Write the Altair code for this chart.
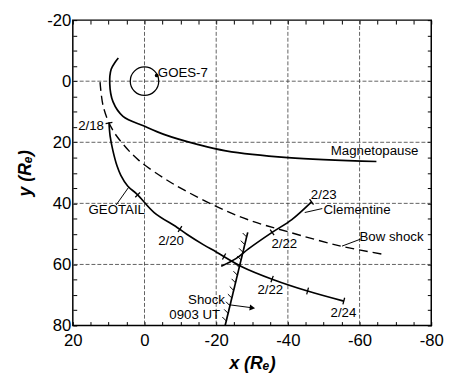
import altair as alt
import pandas as pd

FONT = "Liberation Sans"

# ---------------- data ----------------
mp_x = [7.3, 8.2, 9.3, 9.7, 8.8, 6.0, 0.1, -5.4, -14.5, -22.7, -40.0, -64.7]
mp_y = [-7.6, -6.2, -3.9, 0.8, 6.7, 11.5, 14.7, 17.4, 20.6, 22.8, 25.0, 26.3]

bow_x = [12.4, 11.5, 9.2, 6.0, 1.5, -5.5, -11.0, -20.0, -29.0, -40.0, -54.8, -67.1]
bow_y = [0.3, 8.3, 15.3, 20.6, 26.0, 31.8, 35.6, 41.0, 45.4, 49.3, 54.0, 56.8]

geo_x = [9.9, 9.6, 8.8, 7.7, 6.6, 4.7, 1.9, -2.7, -9.0, -11.8, -16.4, -20.0, -27.3, -35.8, -45.5, -55.6]
geo_y = [13.7, 17.9, 22.8, 27.6, 30.8, 34.3, 37.2, 43.0, 47.8, 50.1, 53.5, 55.9, 60.8, 64.9, 68.7, 72.0]

clem_x = [-21.4, -25.5, -29.0, -35.6, -41.1, -46.6]
clem_y = [60.6, 58.1, 54.9, 49.5, 45.3, 39.5]

shock_x = [-28.8, -22.5]
shock_y = [49.5, 80.0]

# leader lines and arrow shaft
leaders = {
    "geo_leader": ([7.9, 4.4], [40.5, 34.7]),
    "clem_leader": ([-44.7, -49.6], [43.0, 41.7]),
    "bow_leader": ([-55.1, -60.3], [54.0, 51.7]),
    "shock_arrow": ([-23.6, -30.1], [73.2, 74.2]),
}

# day ticks along trajectories
tick_x = [9.9, 1.9, -9.9, -22.2, -35.6, -45.5, -55.6, -35.6, -46.6]
tick_y = [13.7, 37.2, 48.4, 57.4, 64.8, 68.7, 72.0, 49.5, 39.5]
tick_angle = [80, 45, 33, 28, 20, 15, 14, 325, 325]

# hatch marks on the shock front
hatch_x = [-28.49, -27.97, -27.46, -26.94, -26.42, -25.91, -25.39, -24.87, -24.36, -23.84, -23.32, -22.81]
hatch_y = [51.0, 53.5, 56.0, 58.5, 61.0, 63.5, 66.0, 68.5, 71.0, 73.5, 76.0, 78.5]

# text labels
lab_text = ["GOES-7", "Magnetopause", "2/18", "GEOTAIL", "2/20", "2/22", "2/24",
            "2/23", "Clementine", "2/22", "Bow shock", "Shock", "0903 UT"]
lab_x = [-10.7, -64.2, 14.9, 7.75, -7.4, -35.1, -55.5, -50.0, -59.3, -39.0, -68.9, -17.3, -14.0]
lab_y = [-2.6, 22.8, 14.6, 42.1, 52.3, 68.4, 75.8, 37.2, 42.1, 53.3, 51.1, 71.8, 76.6]

goes_x, goes_y = [0.0], [0.0]
goes_dot_x, goes_dot_y = [-3.4], [-1.9]
arrow_x, arrow_y, arrow_angle = [-30.1], [74.2], [7]

x_minor = list(range(-80, 25, 5))
y_minor = list(range(-20, 85, 5))
x_major = [20, 0, -20, -40, -60, -80]
y_major = [-20, 0, 20, 40, 60, 80]
x_grid = [0, -20, -40, -60]
y_grid = [0, 20, 40, 60]

# ---------------- tables ----------------
def line_df(name, xs, ys):
    return pd.DataFrame({"id": name, "x": xs, "y": ys, "i": list(range(len(xs)))})

solid_df = pd.concat([line_df("mp", mp_x, mp_y), line_df("geo", geo_x, geo_y),
                      line_df("clem", clem_x, clem_y), line_df("shock", shock_x, shock_y)])
bow_df = line_df("bow", bow_x, bow_y)
lead_df = pd.concat([line_df(k, v[0], v[1]) for k, v in leaders.items()])
tick_df = pd.DataFrame({"x": tick_x, "y": tick_y, "a": tick_angle})
hatch_df = pd.DataFrame({"x": hatch_x, "y": hatch_y})
lab_df = pd.DataFrame({"t": lab_text, "x": lab_x, "y": lab_y})
goes_df = pd.DataFrame({"x": goes_x, "y": goes_y})
dot_df = pd.DataFrame({"x": goes_dot_x, "y": goes_dot_y})
arrow_df = pd.DataFrame({"x": arrow_x, "y": arrow_y, "a": arrow_angle})
frame_df = pd.DataFrame({"x": [20, -80], "y": [-20, 80]})
xgrid_df = pd.DataFrame({"x": x_grid})
ygrid_df = pd.DataFrame({"y": y_grid})

xscale = alt.Scale(domain=[-80, 20], reverse=True, nice=False, zero=False)
yscale = alt.Scale(domain=[-20, 80], reverse=True, nice=False, zero=False)

lab_expr = "indexof(%s, datum.value) >= 0 ? '' + datum.value : ''"

common_axis = dict(labelFont=FONT, labelFontSize=17, labelColor="black", labelFlush=False,
                   labelOverlap=False, tickSize=4, tickColor="black", tickWidth=1, offset=-4,
                   domain=False, grid=False, titleFont=FONT, titleFontSize=18,
                   titleFontWeight="bold", titleFontStyle="italic", titleColor="black")

ax_bottom = alt.Axis(orient="bottom", values=x_minor, labelExpr=lab_expr % str(x_major),
                     labelPadding=7, title="x  (Rₑ)", titlePadding=7, **common_axis)
ax_left = alt.Axis(orient="left", values=y_minor, labelExpr=lab_expr % str(y_major),
                   labelPadding=2, title="y  (Rₑ)", titlePadding=13, **common_axis)
ax_top = alt.Axis(orient="top", values=x_minor, labels=False, title=None, **common_axis)
ax_right = alt.Axis(orient="right", values=y_minor, labels=False, title=None, **common_axis)


def X(axis=None, field="x:Q"):
    return alt.X(field, scale=xscale, axis=axis)


def Y(axis=None, field="y:Q"):
    return alt.Y(field, scale=yscale, axis=axis)


axes_a = alt.Chart(frame_df).mark_point(opacity=0).encode(x=X(ax_bottom), y=Y(ax_left))
axes_b = alt.Chart(frame_df).mark_point(opacity=0).encode(x=X(ax_top), y=Y(ax_right))

grid_style = dict(color="#3a3a3a", strokeWidth=0.8, strokeDash=[4, 2])
gx = alt.Chart(xgrid_df).mark_rule(**grid_style).encode(x=X())
gy = alt.Chart(ygrid_df).mark_rule(**grid_style).encode(y=Y())

solid = alt.Chart(solid_df).mark_line(color="black", strokeWidth=1.7,
                                      interpolate="catmull-rom").encode(
    x=X(), y=Y(), detail="id:N", order="i:Q")
bow = alt.Chart(bow_df).mark_line(color="black", strokeWidth=1.4, strokeDash=[9, 5],
                                  interpolate="catmull-rom").encode(
    x=X(), y=Y(), order="i:Q")
lead = alt.Chart(lead_df).mark_line(color="black", strokeWidth=1).encode(
    x=X(), y=Y(), detail="id:N", order="i:Q")
ticks = alt.Chart(tick_df).mark_point(shape="M0,-1L0,1", size=49, stroke="black",
                                      strokeWidth=1.3, filled=False, opacity=1).encode(
    x=X(), y=Y(), angle=alt.Angle("a:Q", scale=None))
hatch = alt.Chart(hatch_df).mark_point(shape="M0,0L-1,-1", size=64, stroke="black",
                                       strokeWidth=1, filled=False, opacity=1).encode(x=X(), y=Y())
goes = alt.Chart(goes_df).mark_point(shape="circle", size=841, stroke="black", strokeWidth=1.3,
                                     filled=False, opacity=1).encode(x=X(), y=Y())
dot = alt.Chart(dot_df).mark_point(shape="circle", size=14, color="black", filled=True,
                                   opacity=1).encode(x=X(), y=Y())
arrow = alt.Chart(arrow_df).mark_point(shape="triangle-right", size=40, color="black",
                                       filled=True, opacity=1).encode(
    x=X(), y=Y(), angle=alt.Angle("a:Q", scale=None))
labels = alt.Chart(lab_df).mark_text(font=FONT, fontSize=13.5, color="black", align="center",
                                     baseline="middle").encode(x=X(), y=Y(), text="t:N")

chart = alt.layer(axes_a, axes_b, gx, gy, solid, bow, lead, ticks, hatch, goes, dot, arrow,
                  labels).resolve_axis(
    x="independent", y="independent"
).properties(
    width=365, height=311,
    autosize=alt.AutoSizeParams(type="none"),
    padding={"left": 66, "top": 9, "right": 14, "bottom": 45},
).configure_view(stroke="black", strokeWidth=1.5)

chart.save("out.html", embed_options={"renderer": "svg", "actions": False})
